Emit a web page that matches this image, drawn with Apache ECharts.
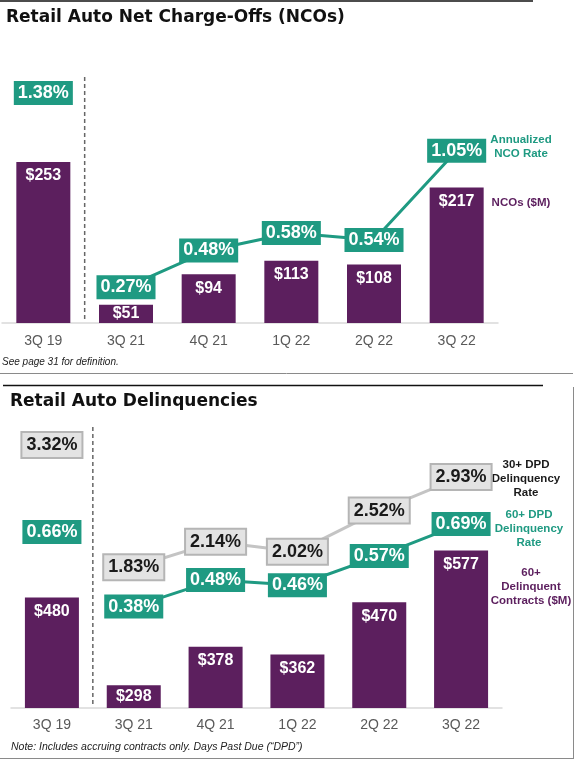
<!DOCTYPE html>
<html>
<head>
<meta charset="utf-8">
<script src="https://cdn.jsdelivr.net/npm/echarts@6/dist/echarts.min.js"></script>
<style>
  html, body { margin: 0; padding: 0; background: #fff; }
  #chart { width: 580px; height: 770px; }
</style>
</head>
<body>
<div id="chart"></div>
<script>
const categories = ['3Q 19', '3Q 21', '4Q 21', '1Q 22', '2Q 22', '3Q 22'];
const ncoAmounts = [253, 51, 94, 113, 108, 217];
const ncoRates = [1.38, 0.27, 0.48, 0.58, 0.54, 1.05];
const delinqAmounts = [480, 298, 378, 362, 470, 577];
const dpd30Rates = [3.32, 1.83, 2.14, 2.02, 2.52, 2.93];
const dpd60Rates = [0.66, 0.38, 0.48, 0.46, 0.57, 0.69];
// first period (pre-covid) stands apart, no line into it
const gapIndex = 0;

const PURPLE = '#5c1f5e';
const TEAL = '#1f9a82';
const GRAY_LINE = '#c4c4c4';
const FONT = 'Liberation Sans, Arial, sans-serif';

const chart = echarts.init(document.getElementById('chart'));

const grids = [
  { left: 2, top: 60, width: 496, height: 263 },
  { left: 11, top: 430, width: 491, height: 278 }
];

const yAxes = [
  { gridIndex: 0, min: 25, max: 397.5 },
  { gridIndex: 0, min: 0.066, max: 1.568 },
  { gridIndex: 1, min: 251, max: 826.8 },
  { gridIndex: 1, min: 0, max: 1.042 },
  { gridIndex: 1, min: 0.116, max: 3.502 }
].map(a => Object.assign({ type: 'value', show: false, splitLine: { show: false } }, a));

function xAxis(gridIndex, margin) {
  return {
    type: 'category',
    gridIndex: gridIndex,
    data: categories,
    axisLine: { lineStyle: { color: '#d9d9d9', width: 1.5 } },
    axisTick: { show: false },
    axisLabel: { color: '#595959', fontSize: 14, fontFamily: FONT, margin: margin }
  };
}

// bars too short for a label at the top get it centred instead
function barData(values, axis, gridH) {
  return values.map(v => {
    const h = (v - axis.min) / (axis.max - axis.min) * gridH;
    return { value: v, label: { position: h < 28 ? 'inside' : 'insideTop' } };
  });
}

function barSeries(values, xi, yi, gridH) {
  return {
    type: 'bar',
    xAxisIndex: xi,
    yAxisIndex: yi,
    barWidth: 54,
    data: barData(values, yAxes[yi], gridH),
    itemStyle: { color: PURPLE },
    label: {
      show: true, distance: 6, color: '#fff', fontWeight: 'bold', fontSize: 16, fontFamily: FONT,
      formatter: p => '$' + p.value
    },
    z: 1
  };
}

function lineSeries(values, xi, yi, color) {
  return {
    type: 'line',
    xAxisIndex: xi,
    yAxisIndex: yi,
    data: values.map((v, i) => i === gapIndex ? '-' : v),
    symbol: 'none',
    lineStyle: { color: color, width: 3 },
    z: 2
  };
}

function boxSeries(values, xi, yi, bg, fg, border) {
  return {
    type: 'scatter',
    xAxisIndex: xi,
    yAxisIndex: yi,
    data: values,
    symbolSize: 1,
    itemStyle: { color: 'rgba(0,0,0,0)', opacity: 1 },
    label: {
      show: true, position: 'inside',
      formatter: p => p.value.toFixed(2) + '%',
      backgroundColor: bg, color: fg,
      borderColor: border || bg, borderWidth: border ? 2 : 0,
      fontWeight: 'bold', fontSize: 18, fontFamily: FONT,
      lineHeight: 18, padding: [3, 4]
    },
    z: 3
  };
}

const titleStyle = { fontFamily: 'DejaVu Sans', fontWeight: 'bold', fontSize: 17, color: '#111' };

chart.setOption({
  animation: false,
  title: [
    { text: 'Retail Auto Net Charge-Offs (NCOs)', left: 6, top: 9, padding: 0, textStyle: titleStyle },
    { text: 'Retail Auto Delinquencies', left: 10, top: 393, padding: 0, textStyle: titleStyle }
  ],
  grid: grids,
  xAxis: [xAxis(0, 11), xAxis(1, 10)],
  yAxis: yAxes,
  series: [
    barSeries(ncoAmounts, 0, 0, grids[0].height),
    lineSeries(ncoRates, 0, 1, TEAL),
    boxSeries(ncoRates, 0, 1, TEAL, '#fff'),
    barSeries(delinqAmounts, 1, 2, grids[1].height),
    lineSeries(dpd30Rates, 1, 4, GRAY_LINE),
    lineSeries(dpd60Rates, 1, 3, TEAL),
    boxSeries(dpd30Rates, 1, 4, '#e3e3e3', '#1a1a1a', '#b5b5b5'),
    boxSeries(dpd60Rates, 1, 3, TEAL, '#fff')
  ]
});

// dashed divider between the first period and the rest, placed from the axis itself
function dividerX(xi) {
  const a = chart.convertToPixel({ xAxisIndex: xi }, categories[gapIndex]);
  const b = chart.convertToPixel({ xAxisIndex: xi }, categories[gapIndex + 1]);
  return (a + b) / 2;
}

function legendText(x, y, text, color) {
  return {
    type: 'text', x: x, y: y,
    style: {
      text: text, fill: color, font: 'bold 11.5px ' + FONT,
      align: 'center', verticalAlign: 'top', lineHeight: 14
    }
  };
}

function hLine(x1, x2, y, color, w) {
  return { type: 'line', shape: { x1: x1, y1: y, x2: x2, y2: y }, style: { stroke: color, lineWidth: w } };
}

const d0 = dividerX(0), d1 = dividerX(1);

chart.setOption({
  graphic: [
    hLine(0, 533, 1, '#111', 1.5),
    hLine(0, 573, 373.5, '#8a8a8a', 1),
    hLine(3, 543, 385.5, '#111', 1.5),
    { type: 'line', shape: { x1: 573.5, y1: 387, x2: 573.5, y2: 758 }, style: { stroke: '#8a8a8a', lineWidth: 1 } },
    hLine(0, 574, 758.5, '#8a8a8a', 1),
    { type: 'line', shape: { x1: d0, y1: 77, x2: d0, y2: 322 }, style: { stroke: '#666', lineWidth: 1.5, lineDash: [4, 3] } },
    { type: 'line', shape: { x1: d1, y1: 427, x2: d1, y2: 707 }, style: { stroke: '#666', lineWidth: 1.5, lineDash: [4, 3] } },
    legendText(521, 133, 'Annualized\nNCO Rate', TEAL),
    legendText(521, 196, 'NCOs ($M)', PURPLE),
    legendText(526, 458, '30+ DPD\nDelinquency\nRate', '#1a1a1a'),
    legendText(529, 508, '60+ DPD\nDelinquency\nRate', TEAL),
    legendText(531, 566, '60+\nDelinquent\nContracts ($M)', PURPLE),
    {
      type: 'text', x: 2, y: 362,
      style: { text: 'See page 31 for definition.', fill: '#222', font: 'italic 10px ' + FONT, verticalAlign: 'middle' }
    },
    {
      type: 'text', x: 11, y: 747,
      style: { text: 'Note: Includes accruing contracts only. Days Past Due (\u201cDPD\u201d)', fill: '#222', font: 'italic 10.5px ' + FONT, verticalAlign: 'middle' }
    }
  ]
});
</script>
</body>
</html>
